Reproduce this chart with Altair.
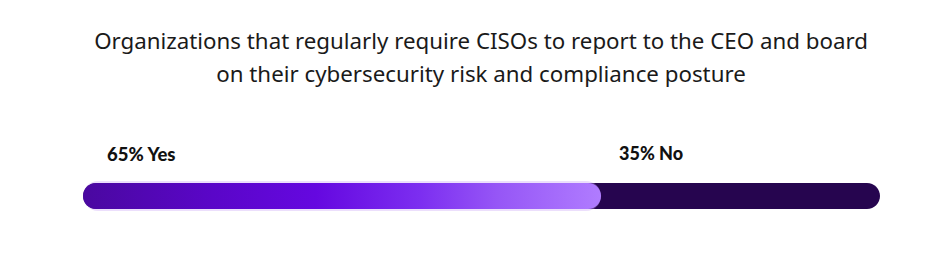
import altair as alt
import pandas as pd

categories = ["Yes", "No"]
values = [65, 35]
labels = ["65% Yes", "35% No"]

title_lines = [
    "Organizations that regularly require CISOs to report to the CEO and board",
    "on their cybersecurity risk and compliance posture",
]

starts = [sum(values[:i]) for i in range(len(values))]
ends = [s + v for s, v in zip(starts, values)]
df = pd.DataFrame({"cat": categories, "value": values, "label": labels,
                   "start": starts, "end": ends})
total = pd.DataFrame({"start": [0], "end": [sum(values)]})

xs = alt.Scale(domain=[0, 100], range=[83, 880])

bg = alt.Chart(total).mark_bar(color="#26054f", cornerRadius=13).encode(
    x=alt.X("start:Q", scale=xs, axis=None),
    x2="end:Q",
    y=alt.value(83),
    y2=alt.value(109),
)

glow = alt.Chart(df).transform_filter(alt.datum.cat == "Yes").mark_bar(
    color="#c9a2f7", opacity=0.35, cornerRadius=15
).encode(
    x=alt.X("start:Q", scale=xs, axis=None),
    x2="end:Q",
    y=alt.value(81),
    y2=alt.value(111),
)

grad = alt.Gradient(
    gradient="linear",
    stops=[
        alt.GradientStop(color="#4a08a0", offset=0),
        alt.GradientStop(color="#5a06c8", offset=0.25),
        alt.GradientStop(color="#6508e0", offset=0.45),
        alt.GradientStop(color="#7c2ef0", offset=0.65),
        alt.GradientStop(color="#9656f6", offset=0.8),
        alt.GradientStop(color="#b07cff", offset=1),
    ],
    x1=0, x2=1, y1=0, y2=0,
)

yes = alt.Chart(df).transform_filter(alt.datum.cat == "Yes").mark_bar(
    color=grad, cornerRadius=13
).encode(
    x=alt.X("start:Q", scale=xs, axis=None),
    x2="end:Q",
    y=alt.value(83),
    y2=alt.value(109),
)


def label_layer(cat, dx, size):
    return alt.Chart(df).transform_filter(alt.datum.cat == cat).mark_text(
        align="left", baseline="middle", fontSize=size, fontWeight=900,
        font="Lato", color="#111111", dx=dx
    ).encode(
        x=alt.X("start:Q", scale=xs, axis=None),
        y=alt.value(55),
        text="label:N",
    )


text_yes = label_layer("Yes", 24, 18.5)
text_no = label_layer("No", 18, 18)

chart = alt.layer(bg, glow, yes, text_yes, text_no).properties(
    width=940,
    height=162,
    padding={"left": 0, "right": 0, "top": 100, "bottom": 0},
    autosize="none",
    title=alt.TitleParams(
        text=title_lines,
        anchor="middle",
        fontSize=22.3,
        fontWeight="normal",
        font="Noto Sans",
        color="#1a1a1a",
        lineHeight=32.5,
        baseline="alphabetic",
        offset=-4,
        dx=11,
    ),
).configure_view(stroke=None)

chart.save("out.html", embed_options={"renderer": "svg", "actions": False})
